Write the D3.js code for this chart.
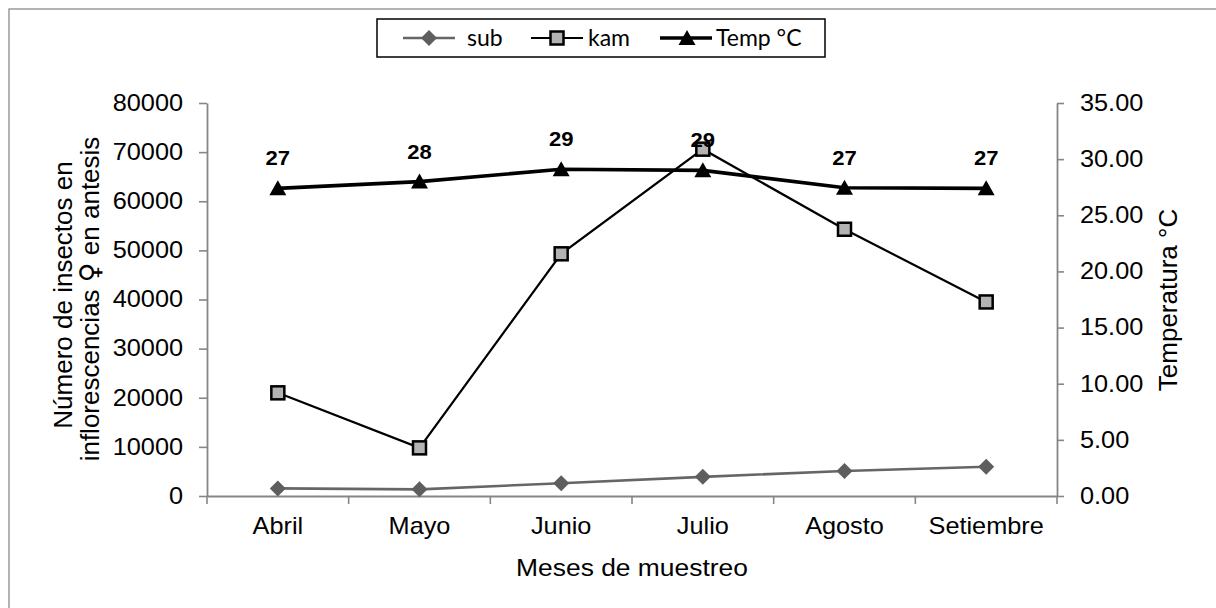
<!DOCTYPE html>
<html><head><meta charset="utf-8">
<script src="https://cdn.jsdelivr.net/npm/d3@7"></script>
<style>body{margin:0;background:#fff}svg{display:block}</style>
</head><body>
<svg id="c" width="1216" height="608"></svg>
<script>
const months = ["Abril","Mayo","Junio","Julio","Agosto","Setiembre"];
const sub  = [1550, 1350, 2600, 3900, 5100, 5950];
const kam  = [21000, 9800, 49300, 70600, 54300, 39500];
const temp = [27.4, 28.0, 29.1, 29.0, 27.45, 27.4];
const leftTicks  = [0,10000,20000,30000,40000,50000,60000,70000,80000];
const rightTicks = [0,5,10,15,20,25,30,35];

const svg = d3.select("#c");
const SX = 1.1;
const axisCol = "#868686";
const font = "'Liberation Sans', Arial, sans-serif";

const x  = d3.scaleBand().domain(months).range([207,1057]);
const y  = d3.scaleLinear().domain([0,80000]).range([496,103]);
const yR = d3.scaleLinear().domain([0,35]).range([496,103]);
const cx = d => x(d) + x.bandwidth()/2;

// outer frame (right/bottom edges fall outside the picture)
svg.append("rect").attr("x",9).attr("y",9).attr("width",1230).attr("height",620)
  .attr("fill","none").attr("stroke","#8a8a8a").attr("stroke-width",1.3);

function stretch(sel){
  sel.each(function(){
    const t = d3.select(this);
    const xv = +(t.attr("x")||0);
    t.attr("x", xv/SX).attr("transform", `scale(${SX},1)`);
  });
}

// left axis
const gL = svg.append("g").attr("transform","translate(207,0)")
  .call(d3.axisLeft(y).tickValues(leftTicks).tickSize(8).tickSizeOuter(0).tickPadding(16).tickFormat(d3.format("d")));
gL.selectAll("text").attr("font-size",23).attr("font-family",font).attr("fill","#000").attr("dy","0.32em");
stretch(gL.selectAll("text"));

// right axis
const gR = svg.append("g").attr("transform","translate(1057,0)")
  .call(d3.axisRight(yR).tickValues(rightTicks).tickSize(7).tickSizeOuter(0).tickPadding(16).tickFormat(d3.format(".2f")));
gR.selectAll("text").attr("font-size",23).attr("font-family",font).attr("fill","#000").attr("dy","0.32em");
stretch(gR.selectAll("text"));

// bottom axis
const gB = svg.append("g").attr("transform","translate(0,496)")
  .call(d3.axisBottom(x).tickSize(0).tickSizeOuter(0).tickPadding(21.7));
gB.selectAll("text").attr("font-size",23).attr("font-family",font).attr("fill","#000");
stretch(gB.selectAll("text"));
const bounds = months.map(m => x(m)).concat([x.range()[1]]);
gB.selectAll(".bt").data(bounds).enter().append("line")
  .attr("x1",d=>d).attr("x2",d=>d).attr("y1",0).attr("y2",8).attr("stroke",axisCol).attr("stroke-width",1.6);

[gL,gR,gB].forEach(g=>{
  g.select(".domain").attr("stroke",axisCol).attr("stroke-width",1.8);
  g.selectAll(".tick line").attr("stroke",axisCol).attr("stroke-width",1.6);
});

// axis titles
svg.append("text").attr("font-family",font).attr("font-size",24).attr("text-anchor","middle")
  .attr("transform",`translate(632,576) scale(${SX},1)`).text("Meses de muestreo");
svg.append("text").attr("font-family",font).attr("font-size",26).attr("text-anchor","middle")
  .attr("transform","translate(72,295) rotate(-90)").text("Número de insectos en");
const t2 = svg.append("text").attr("font-family",font).attr("font-size",26).attr("text-anchor","middle")
  .attr("transform","translate(99,299) rotate(-90)");
t2.append("tspan").text("inflorescencias ");
t2.append("tspan").attr("font-family","'DejaVu Sans', sans-serif").attr("font-size",27).text("♀");
t2.append("tspan").text(" en antesis");
svg.append("text").attr("font-family",font).attr("font-size",26).attr("text-anchor","middle")
  .attr("transform","translate(1177,300) rotate(-90)").text("Temperatura °C");

// shapes
const diamond = "M0,-8L8,0L0,8L-8,0Z";
const tri = "M0,-8L8.5,7L-8.5,7Z";

// sub
svg.append("path").datum(sub)
  .attr("d", d3.line().x((d,i)=>cx(months[i])).y(d=>y(d)))
  .attr("fill","none").attr("stroke","#666").attr("stroke-width",2.6);
svg.selectAll(".sd").data(sub).enter().append("path")
  .attr("transform",(d,i)=>`translate(${cx(months[i])},${y(d)})`).attr("d",diamond).attr("fill","#5e5e5e");

// kam
svg.append("path").datum(kam)
  .attr("d", d3.line().x((d,i)=>cx(months[i])).y(d=>y(d)))
  .attr("fill","none").attr("stroke","#000").attr("stroke-width",2.2);
svg.selectAll(".kd").data(kam).enter().append("rect")
  .attr("x",(d,i)=>cx(months[i])-6.5).attr("y",d=>y(d)-6.5).attr("width",13).attr("height",13)
  .attr("fill","#b3b3b3").attr("stroke","#000").attr("stroke-width",2.5);

// temp
svg.append("path").datum(temp)
  .attr("d", d3.line().x((d,i)=>cx(months[i])).y(d=>yR(d)))
  .attr("fill","none").attr("stroke","#000").attr("stroke-width",3.6);
svg.selectAll(".td").data(temp).enter().append("path")
  .attr("transform",(d,i)=>`translate(${cx(months[i])},${yR(d)})`).attr("d",tri).attr("fill","#000");
svg.selectAll(".tl").data(temp).enter().append("text")
  .attr("transform",(d,i)=>`translate(${cx(months[i])},${yR(d)-23}) scale(1.05,1)`)
  .attr("text-anchor","middle").attr("font-family",font).attr("font-weight","bold").attr("font-size",21)
  .text(d=>d3.format(".0f")(d));

// legend
const lg = svg.append("g");
lg.append("rect").attr("x",377).attr("y",19).attr("width",448).attr("height",38)
  .attr("fill","#fff").attr("stroke","#000").attr("stroke-width",1.5);
const lf = "Lato, 'Open Sans', sans-serif";
const ly = 38;
lg.append("line").attr("x1",403).attr("x2",455).attr("y1",ly).attr("y2",ly).attr("stroke","#666").attr("stroke-width",2.6);
lg.append("path").attr("transform",`translate(429,${ly})`).attr("d",diamond).attr("fill","#5e5e5e");
lg.append("text").attr("x",467).attr("y",ly+8).attr("font-family",lf).attr("font-size",23).text("sub");
lg.append("line").attr("x1",531).attr("x2",583).attr("y1",ly).attr("y2",ly).attr("stroke","#000").attr("stroke-width",2.2);
lg.append("rect").attr("x",557-6.5).attr("y",ly-6.5).attr("width",13).attr("height",13).attr("fill","#b3b3b3").attr("stroke","#000").attr("stroke-width",2.5);
lg.append("text").attr("x",588).attr("y",ly+8).attr("font-family",lf).attr("font-size",23).text("kam");
lg.append("line").attr("x1",660).attr("x2",712).attr("y1",ly).attr("y2",ly).attr("stroke","#000").attr("stroke-width",3.6);
lg.append("path").attr("transform",`translate(687,${ly})`).attr("d",tri).attr("fill","#000");
lg.append("text").attr("x",716).attr("y",ly+8).attr("font-family",lf).attr("font-size",23).text("Temp °C");
</script>
</body></html>
